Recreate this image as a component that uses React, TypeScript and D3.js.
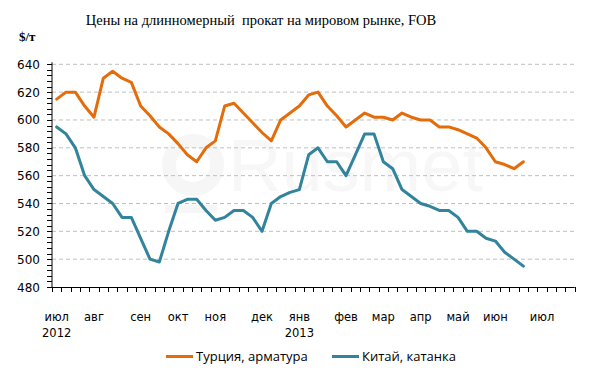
import React from "react";
import * as d3 from "d3";

const weekLabels = [
  "июл", "", "", "", "авг", "", "", "", "", "сен", "", "", "", "окт", "", "", "", "ноя", "", "", "", "",
  "дек", "", "", "", "янв", "", "", "", "", "фев", "", "", "", "мар", "", "", "", "апр", "", "", "",
  "май", "", "", "", "июн", "", "", "", "", "июл", "", "", "",
];
const yearLabels = ["2012", "", "", "", "", "", "", "", "", "", "", "", "", "", "", "", "", "", "", "", "", "",
  "", "", "", "", "2013"];

const turkey = [
  615, 620, 620, 610, 602, 630, 635, 630, 627, 610, 603, 595, 590, 583, 575, 570, 580, 585, 610, 612,
  605, 598, 591, 585, 600, 605, 610, 618, 620, 610, 603, 595, 600, 605, 602, 602, 600, 605, 602, 600,
  600, 595, 595, 593, 590, 587, 580, 570, 568, 565, 570,
];
const china = [
  595, 590, 580, 560, 550, 545, 540, 530, 530, 515, 500, 498, 520, 540, 543, 543, 535, 528, 530, 535,
  535, 530, 520, 540, 545, 548, 550, 575, 580, 570, 570, 560, 575, 590, 590, 570, 565, 550, 545, 540,
  538, 535, 535, 530, 520, 520, 515, 513, 505, 500, 495,
];
const yTicks = [480, 500, 520, 540, 560, 580, 600, 620, 640];
const seriesNames = ["Турция, арматура", "Китай, катанка"];
const colors = ["#E46C0A", "#31849B"];

export default function App() {
  const W = 600, H = 380;
  const left = 52, right = 574.7, top = 64.3, bottom = 287;
  const idx = weekLabels.map((_, i) => i);
  const x = d3.scaleBand<number>().domain(idx).range([left, right]).paddingInner(0).paddingOuter(0);
  const cx = (i: number) => (x(i) as number) + x.bandwidth() / 2;
  const y = d3.scaleLinear().domain([480, 640]).range([bottom, top]);
  const line = d3.line<number>().x((_, i) => cx(i)).y((d) => y(d)).curve(d3.curveLinear);
  const minorTicks = d3.range(480, 641, 4);
  const xTickPos = idx.map((i) => x(i) as number).concat([right]);
  const sans = "'DejaVu Sans', Verdana, sans-serif";

  return (
    <svg width={W} height={H} style={{ position: "absolute", left: 0, top: 0, background: "#fff" }}>
      <rect width={W} height={H} fill="#fff" />
      {/* watermark */}
      <g>
        <circle cx={193} cy={165} r={24} fill="none" stroke="#f6f6f6" strokeWidth={14} />
        <rect x={165} y={205} width={52} height={8} fill="#f6f6f6" />
        <text x={228} y={191} fontFamily="'Liberation Sans', Arial, sans-serif" fontSize={74} fill="#f7f7f7">Rusmet</text>
      </g>
      <text x={261} y={25} textAnchor="middle" fontFamily="'Liberation Serif', 'DejaVu Serif', serif" fontSize={14.5} fill="#000">
        Цены на длинномерный{"\u00a0"} прокат на мировом рынке, FOB
      </text>
      <text x={19} y={41} fontFamily="'Liberation Serif', 'DejaVu Serif', serif" fontSize={13} fontWeight="bold" fill="#000">$/т</text>
      {/* grid */}
      {yTicks.filter((t) => t > 480).map((t) => (
        <line key={"g" + t} x1={left} x2={right} y1={y(t)} y2={y(t)} stroke="#bfbfbf" strokeWidth={1} strokeDasharray="4,3" />
      ))}
      {/* y axis */}
      <line x1={left} x2={left} y1={top - 2} y2={bottom} stroke="#000" strokeWidth={1} />
      {minorTicks.map((t) => (
        <line key={"m" + t} x1={left - 5} x2={left} y1={Math.round(y(t)) + 0.5} y2={Math.round(y(t)) + 0.5} stroke="#000" strokeWidth={1} />
      ))}
      {yTicks.map((t) => (
        <text key={"yl" + t} x={40} y={y(t) + 4.5} textAnchor="end" fontFamily={sans} fontSize={12} fill="#000">{t}</text>
      ))}
      {/* x axis */}
      <line x1={left} x2={right} y1={bottom + 0.5} y2={bottom + 0.5} stroke="#000" strokeWidth={1} />
      {xTickPos.map((p, i) => (
        <line key={"xt" + i} x1={Math.round(p) + 0.5} x2={Math.round(p) + 0.5} y1={bottom} y2={bottom + 5} stroke="#000" strokeWidth={1} />
      ))}
      {weekLabels.map((l, i) => l ? (
        <text key={"xl" + i} x={cx(i)} y={321} textAnchor="middle" fontFamily={sans} fontSize={11.5} fill="#000">{l}</text>
      ) : null)}
      {yearLabels.map((l, i) => l ? (
        <text key={"yr" + i} x={cx(i)} y={337} textAnchor="middle" fontFamily={sans} fontSize={11.5} fill="#000">{l}</text>
      ) : null)}
      {/* lines */}
      {[turkey, china].map((s, k) => (
        <path key={"s" + k} d={line(s) as string} fill="none" stroke={colors[k]} strokeWidth={3} strokeLinejoin="round" strokeLinecap="round" />
      ))}
      {/* legend */}
      {seriesNames.map((n, k) => {
        const lx = k === 0 ? 166 : 332;
        return (
          <g key={"lg" + k}>
            <line x1={lx} x2={lx + 27} y1={356.5} y2={356.5} stroke={colors[k]} strokeWidth={3} />
            <text x={lx + 30} y={361} fontFamily="'Open Sans', 'Noto Sans', sans-serif" fontSize={13} fill="#000">{n}</text>
          </g>
        );
      })}
    </svg>
  );
}
